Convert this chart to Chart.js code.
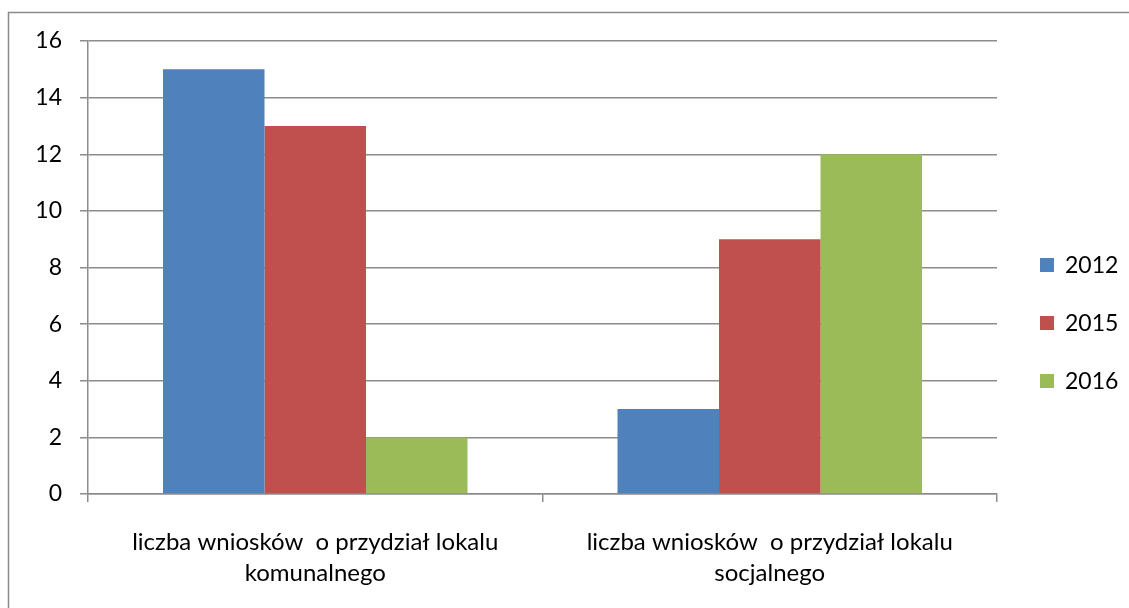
<!DOCTYPE html>
<html>
<head>
<meta charset="utf-8">
<script src="https://cdn.jsdelivr.net/npm/chart.js@4.4.0/dist/chart.umd.min.js"></script>
<style>
  html, body { margin: 0; padding: 0; background: #fff; }
  #wrap { width: 1129px; height: 608px; position: relative; }
</style>
</head>
<body>
<div id="wrap"><canvas id="chart" width="1129" height="608"></canvas></div>
<script>
// Chart data
const categories = [
    ['liczba wniosków  o przydział lokalu', 'komunalnego'],
    ['liczba wniosków  o przydział lokalu', 'socjalnego']
];
const seriesNames = ['2012', '2015', '2016'];
const values2012 = [15, 3];
const values2015 = [13, 9];
const values2016 = [2, 12];
const yTicks = [0, 2, 4, 6, 8, 10, 12, 14, 16];

const colors = ['#4F81BD', '#C0504D', '#9BBB59'];
const gridColor = '#8c8c8c';
const fontFamily = 'Lato, "Open Sans", sans-serif';

// Outer frame like the Excel chart border
const framePlugin = {
    id: 'frame',
    beforeDraw(chart) {
        const ctx = chart.ctx;
        ctx.save();
        ctx.strokeStyle = '#8a8a8a';
        ctx.lineWidth = 1.5;
        ctx.strokeRect(8.5, 12.5, 1200, 700);
        ctx.restore();
    }
};

// Legend on the right, drawn from the datasets
const sideLegend = {
    id: 'sideLegend',
    afterDraw(chart) {
        const ctx = chart.ctx;
        ctx.save();
        ctx.font = '23px ' + fontFamily;
        ctx.textBaseline = 'middle';
        ctx.textAlign = 'left';
        chart.data.datasets.forEach(function(ds, i) {
            const cy = 265 + i * 58;
            ctx.fillStyle = ds.backgroundColor;
            ctx.fillRect(1040, cy - 7, 14, 14);
            ctx.fillStyle = '#000';
            ctx.fillText(ds.label, 1065, cy + 1);
        });
        ctx.restore();
    }
};

const ctx = document.getElementById('chart');
new Chart(ctx, {
    type: 'bar',
    data: {
        labels: categories,
        datasets: [
            { label: seriesNames[0], data: values2012, backgroundColor: colors[0] },
            { label: seriesNames[1], data: values2015, backgroundColor: colors[1] },
            { label: seriesNames[2], data: values2016, backgroundColor: colors[2] }
        ]
    },
    options: {
        responsive: false,
        animation: false,
        layout: {
            padding: { left: 8, right: 132, top: 41, bottom: 0 }
        },
        datasets: {
            bar: { categoryPercentage: 0.67, barPercentage: 1.0 }
        },
        plugins: {
            legend: { display: false },
            tooltip: { enabled: false }
        },
        scales: {
            x: {
                offset: true,
                grid: {
                    offset: true,
                    drawOnChartArea: false,
                    drawTicks: true,
                    tickLength: 8,
                    color: gridColor,
                    lineWidth: 1.5
                },
                border: { display: true, color: gridColor, width: 1.5 },
                ticks: {
                    color: '#000',
                    padding: 25,
                    maxRotation: 0,
                    autoSkip: false,
                    font: { family: fontFamily, size: 24, lineHeight: 1.28 }
                },
                afterFit: function(scale) { scale.height = 114; }
            },
            y: {
                min: 0,
                max: 16,
                afterBuildTicks: function(scale) {
                    scale.ticks = yTicks.map(function(v) { return { value: v }; });
                },
                grid: {
                    color: gridColor,
                    lineWidth: 1.5,
                    tickLength: 8
                },
                border: { display: true, color: gridColor, width: 1.5 },
                ticks: {
                    color: '#000',
                    padding: 18,
                    font: { family: fontFamily, size: 23 }
                },
                afterFit: function(scale) { scale.width = 80; }
            }
        }
    },
    plugins: [framePlugin, sideLegend]
});
</script>
</body>
</html>
